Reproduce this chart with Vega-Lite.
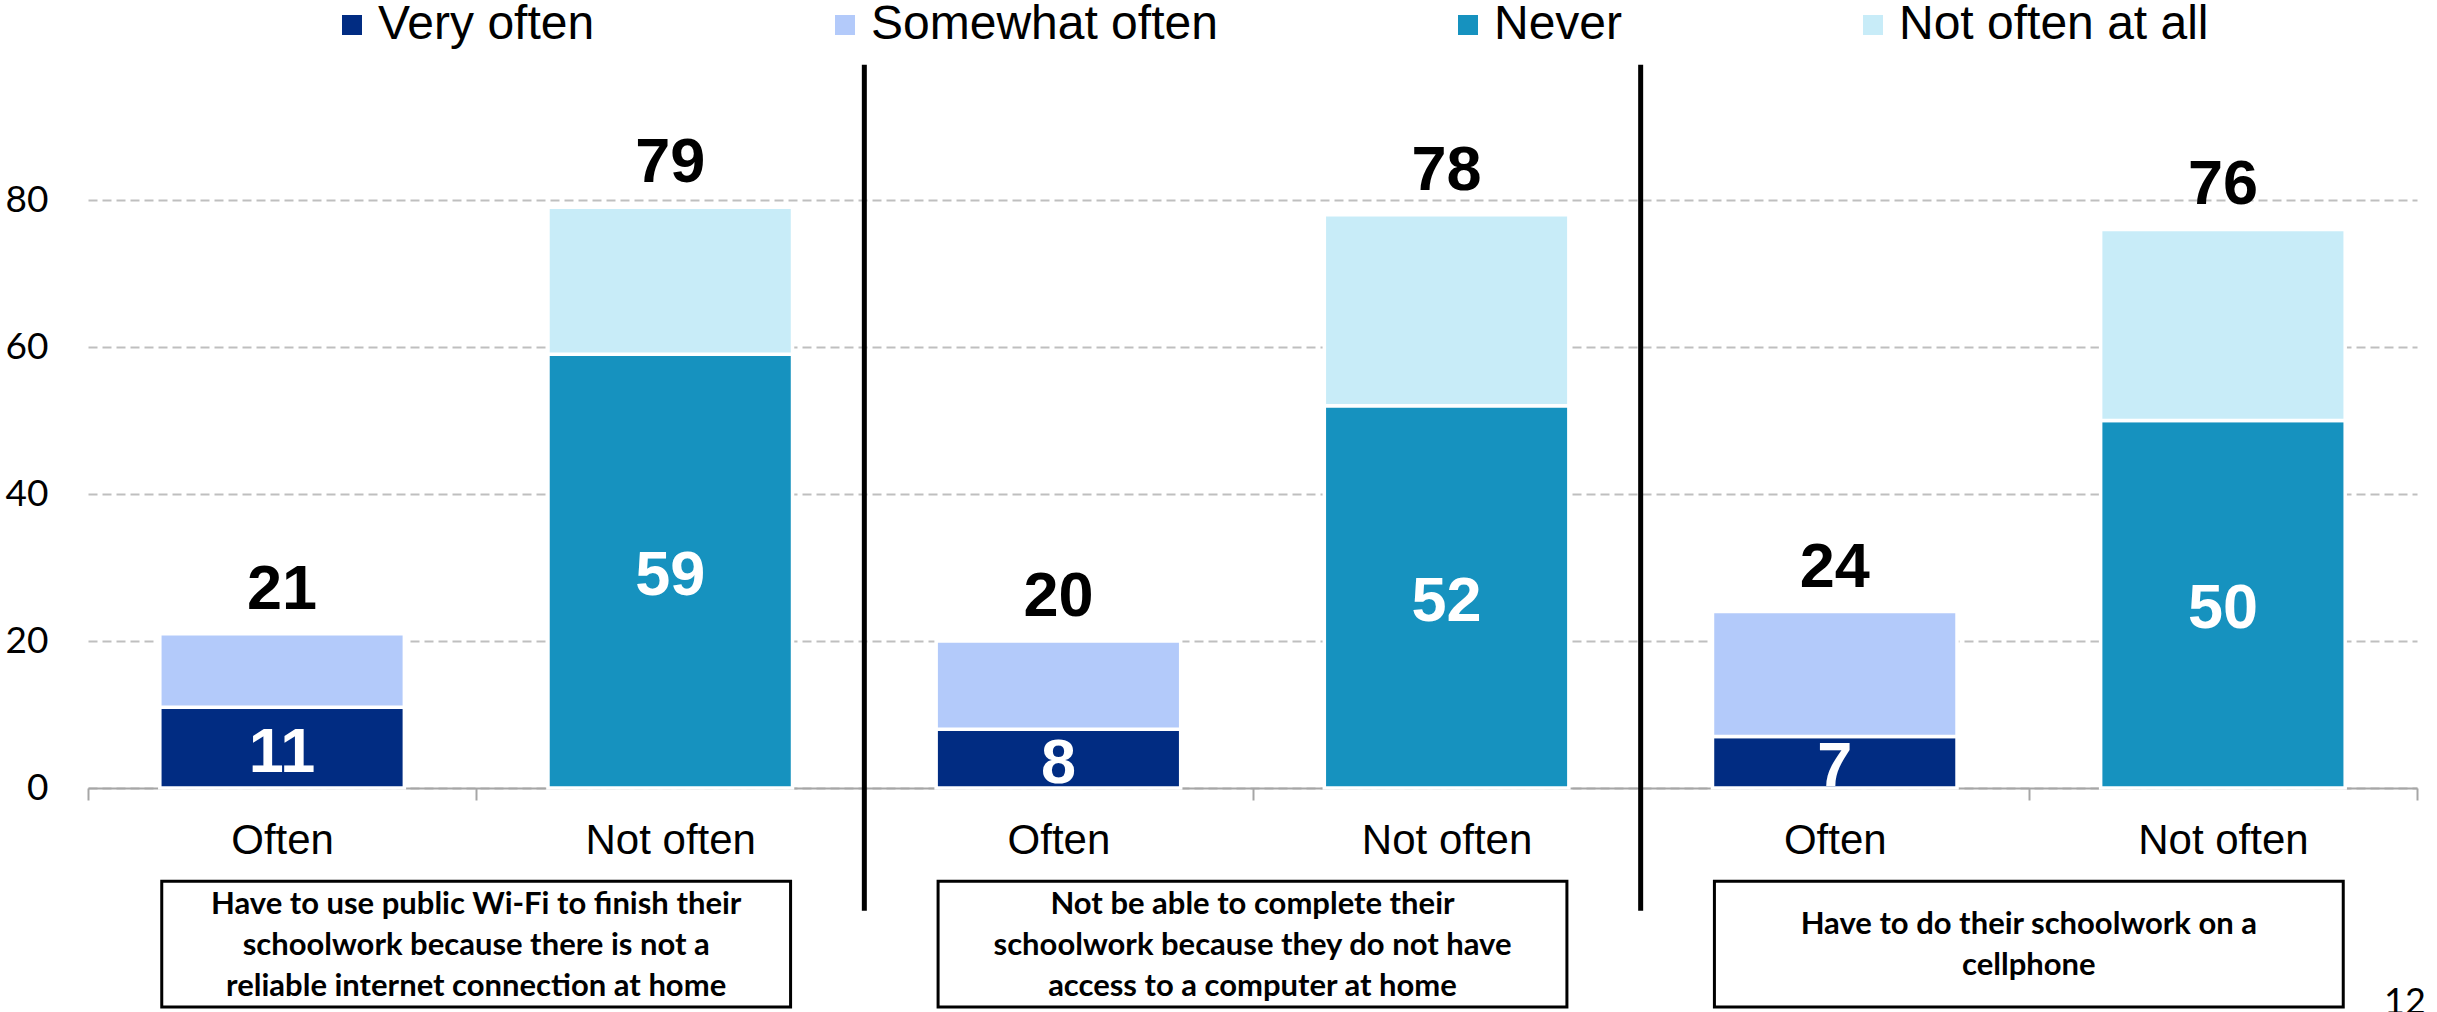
{
  "$schema": "https://vega.github.io/schema/vega-lite/v6.json",
  "autosize": "none",
  "width": 2329,
  "height": 735,
  "padding": {"left": 88, "top": 53, "right": 20, "bottom": 224},
  "background": "white",
  "title": {"text": "12", "orient": "bottom", "anchor": "end", "align": "left", "dx": -33, "offset": -23, "frame": "group", "font": "Lato", "fontSize": 36, "fontWeight": "normal", "color": "black", "baseline": "top"},
  "datasets": {
    "bars": [
      {"bar": "Wi-Fi · Often", "response": "Very often", "strength": "strong", "value": 11},
      {"bar": "Wi-Fi · Often", "response": "Somewhat often", "strength": "moderate", "value": 10},
      {"bar": "Wi-Fi · Not often", "response": "Never", "strength": "strong", "value": 59},
      {"bar": "Wi-Fi · Not often", "response": "Not often at all", "strength": "moderate", "value": 20},
      {"bar": "Computer · Often", "response": "Very often", "strength": "strong", "value": 8},
      {"bar": "Computer · Often", "response": "Somewhat often", "strength": "moderate", "value": 12},
      {"bar": "Computer · Not often", "response": "Never", "strength": "strong", "value": 52},
      {"bar": "Computer · Not often", "response": "Not often at all", "strength": "moderate", "value": 26},
      {"bar": "Cellphone · Often", "response": "Very often", "strength": "strong", "value": 7},
      {"bar": "Cellphone · Often", "response": "Somewhat often", "strength": "moderate", "value": 17},
      {"bar": "Cellphone · Not often", "response": "Never", "strength": "strong", "value": 50},
      {"bar": "Cellphone · Not often", "response": "Not often at all", "strength": "moderate", "value": 26}
    ],
    "boxes": [
      {"first": "Wi-Fi · Often", "last": "Wi-Fi · Not often", "lines": 3, "label": "Have to use public Wi-Fi to finish their\nschoolwork because there is not a\nreliable internet connection at home"},
      {"first": "Computer · Often", "last": "Computer · Not often", "lines": 3, "label": "Not be able to complete their\nschoolwork because they do not have\naccess to a computer at home"},
      {"first": "Cellphone · Often", "last": "Cellphone · Not often", "lines": 2, "label": "Have to do their schoolwork on a\ncellphone"}
    ]
  },
  "layer": [
    {
      "data": {"name": "bars"},
      "mark": {"type": "bar", "width": {"band": 0.63}, "stroke": "white", "strokeWidth": 3.5},
      "encoding": {
        "x": {
          "field": "bar", "type": "nominal", "title": null,
          "scale": {"domain": ["Wi-Fi · Often", "Wi-Fi · Not often", "Computer · Often", "Computer · Not often", "Cellphone · Often", "Cellphone · Not often"], "paddingInner": 0, "paddingOuter": 0},
          "axis": {"labelExpr": "split(datum.label, ' · ')[1]", "labelAngle": 0, "tickBand": "extent", "ticks": true, "tickSize": 12, "tickWidth": 2, "tickColor": "#A6A6A6", "domainColor": "#A6A6A6", "domainWidth": 2, "labelPadding": 20, "labelFont": "Liberation Sans", "labelFontSize": 42, "labelColor": "black", "grid": false}
        },
        "y": {
          "field": "value", "type": "quantitative", "stack": "zero", "title": null,
          "scale": {"domain": [0, 100], "nice": false},
          "axis": {"values": [0, 20, 40, 60, 80], "domain": false, "ticks": false, "tickSize": 0, "labelPadding": 40, "labelFont": "Lato", "labelFontSize": 37, "labelColor": "black", "grid": true, "gridColor": "#BFBFBF", "gridWidth": 2, "gridDash": [9, 5]}
        },
        "color": {
          "field": "response", "type": "nominal",
          "scale": {"domain": ["Very often", "Somewhat often", "Never", "Not often at all"], "range": ["#012C82", "#B3CAFA", "#1692BF", "#C8ECF8"]},
          "legend": {"title": null, "orient": "none", "legendX": 240, "legendY": -52, "direction": "horizontal", "columns": 4, "columnPadding": 226, "symbolType": "square", "symbolSize": 400, "symbolStrokeWidth": 0, "labelFont": "Liberation Sans", "labelFontSize": 48, "labelColor": "black", "labelOffset": 2, "labelLimit": 0, "padding": 0}
        },
        "order": {"field": "strength", "sort": "descending"}
      }
    },
    {
      "data": {"name": "bars"},
      "transform": [{"filter": "datum.strength == 'strong'"}],
      "mark": {"type": "text", "font": "Liberation Sans", "fontWeight": "bold", "fontSize": 63, "color": "white", "baseline": "middle", "align": "center", "dy": 5},
      "encoding": {
        "x": {"field": "bar", "type": "nominal", "title": null},
        "y": {"field": "value", "type": "quantitative", "stack": "zero", "bandPosition": 0.5, "title": null},
        "text": {"field": "value", "type": "quantitative"}
      }
    },
    {
      "data": {"name": "bars"},
      "mark": {"type": "text", "font": "Liberation Sans", "fontWeight": "bold", "fontSize": 63, "color": "black", "baseline": "alphabetic", "align": "center", "dy": -25},
      "encoding": {
        "x": {"field": "bar", "type": "nominal", "title": null},
        "y": {"aggregate": "sum", "field": "value", "type": "quantitative", "title": null},
        "text": {"aggregate": "sum", "field": "value", "type": "quantitative"}
      }
    },
    {
      "data": {"name": "boxes"},
      "transform": [{"filter": "datum.first != 'Wi-Fi · Often'"}],
      "mark": {"type": "rule", "color": "black", "strokeWidth": 5},
      "encoding": {
        "x": {"field": "first", "type": "nominal", "bandPosition": 0, "title": null},
        "y": {"datum": 98.4, "type": "quantitative"},
        "y2": {"datum": -16.7}
      }
    },
    {
      "data": {"name": "boxes"},
      "mark": {"type": "rect", "fill": "white", "stroke": "black", "strokeWidth": 3},
      "encoding": {
        "x": {"field": "first", "type": "nominal", "bandPosition": 0.19, "title": null},
        "x2": {"field": "last", "bandPosition": 0.81},
        "y": {"datum": -12.7, "type": "quantitative"},
        "y2": {"datum": -29.8}
      }
    },
    {
      "data": {"name": "boxes"},
      "transform": [{"filter": "datum.lines == 3"}],
      "mark": {"type": "text", "font": "Lato", "fontWeight": "bold", "fontSize": 31, "lineBreak": "\n", "lineHeight": 41, "align": "center", "baseline": "middle", "color": "black"},
      "encoding": {
        "x": {"field": "last", "type": "nominal", "bandPosition": 0, "title": null},
        "y": {"datum": -15.9, "type": "quantitative"},
        "text": {"field": "label", "type": "nominal"}
      }
    },
    {
      "data": {"name": "boxes"},
      "transform": [{"filter": "datum.lines == 2"}],
      "mark": {"type": "text", "font": "Lato", "fontWeight": "bold", "fontSize": 31, "lineBreak": "\n", "lineHeight": 41, "align": "center", "baseline": "middle", "color": "black"},
      "encoding": {
        "x": {"field": "last", "type": "nominal", "bandPosition": 0, "title": null},
        "y": {"datum": -18.6, "type": "quantitative"},
        "text": {"field": "label", "type": "nominal"}
      }
    }
  ],
  "config": {
    "view": {"stroke": null}
  }
}
